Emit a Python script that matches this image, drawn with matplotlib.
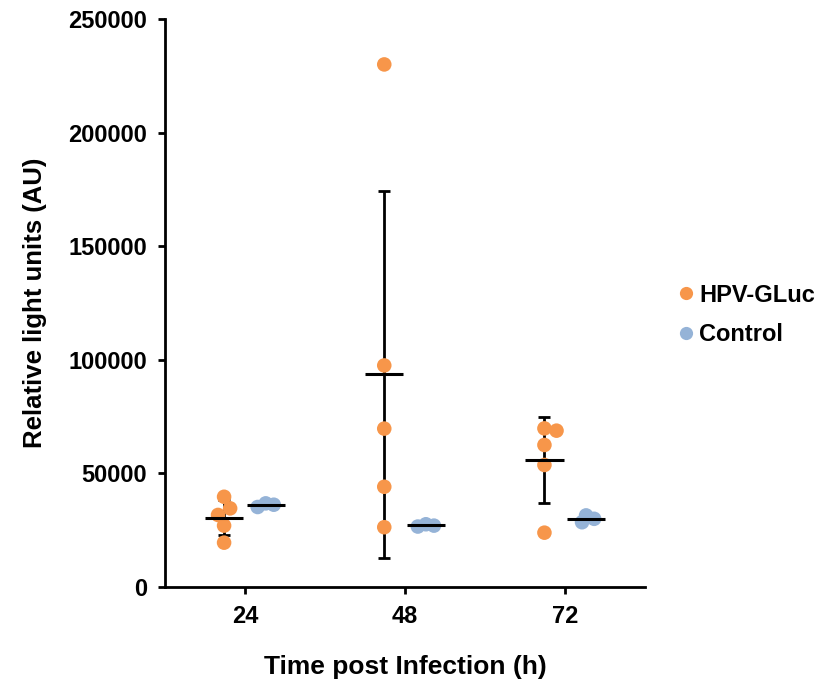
import numpy as np
import matplotlib
matplotlib.use("Agg")
import matplotlib.pyplot as plt
from matplotlib.lines import Line2D

plt.rc("font", family=["Liberation Sans", "DejaVu Sans"], weight="bold")

# values
timepoints = ["24", "48", "72"]
hpv_gluc = [
    [39700, 34600, 31700, 27000, 19500],
    [230000, 97500, 69700, 44100, 26300],
    [69800, 68800, 62500, 53700, 23900],
]
control = [
    [36800, 36200, 35200],
    [27600, 27000, 26600],
    [31500, 30000, 28500],
]
series_names = ["HPV-GLuc", "Control"]
series_colors = ["#F7964A", "#95B3D7"]
yticks = [0, 50000, 100000, 150000, 200000, 250000]

# rough pixel scales used to spread overlapping points
YPX = 568 / 250000
XPX = 159.0


def swarm(values, center, min_dist, step):
    placed = []
    xs = []
    for v in values:
        yp = v * YPX
        for k in [0, 1, -1, 2, -2, 3, -3, 4, -4]:
            xp = k * step
            if all((xp - a) ** 2 + (yp - b) ** 2 >= min_dist ** 2 for a, b in placed):
                break
        placed.append((xp, yp))
        xs.append(center + xp / XPX)
    return xs


def draw_group(ax, values, center, color, min_dist, step):
    values = np.asarray(values, dtype=float)
    mean = values.mean()
    sd = values.std(ddof=1)
    ax.errorbar(center, mean, yerr=sd, fmt="none", ecolor="black",
                elinewidth=2.0, capsize=4, capthick=2.0, zorder=2)
    ax.scatter(swarm(values, center, min_dist, step), values, s=110,
               color=color, edgecolor="none", zorder=3, clip_on=False)
    ax.plot([center - 0.12, center + 0.12], [mean, mean], color="black",
            lw=2.2, zorder=4, solid_capstyle="butt")


fig = plt.figure(figsize=(8.2, 6.83), dpi=100)
ax = fig.add_axes([0.201, 0.1406, 0.586, 0.8316])

positions = np.arange(1, len(timepoints) + 1)
offset = 0.13
for i, pos in enumerate(positions):
    draw_group(ax, hpv_gluc[i], pos - offset, series_colors[0], 12, 6)
    draw_group(ax, control[i], pos + offset, series_colors[1], 7, 4)

ax.set_xlim(0.5, 3.5)
ax.set_ylim(0, 250000)
ax.set_xticks(positions)
ax.set_xticklabels(timepoints)
ax.set_yticks(yticks)
ax.set_yticklabels([str(t) for t in yticks])

ax.spines["top"].set_visible(False)
ax.spines["right"].set_visible(False)
for s in ["left", "bottom"]:
    ax.spines[s].set_linewidth(2.0)
ax.tick_params(axis="both", direction="out", length=5, width=2.0,
               labelsize=17, pad=8)

ax.set_xlabel("Time post Infection (h)", fontsize=19, fontweight="bold")
ax.set_ylabel("Relative light units (AU)", fontsize=18.5, fontweight="bold")
ax.xaxis.set_label_coords(0.5, -0.12)
ax.yaxis.set_label_coords(-0.2456, 0.5)

handles = [Line2D([], [], marker="o", ls="none", markersize=9.5,
                  markerfacecolor=c, markeredgecolor="none") for c in series_colors]
fig.legend(handles, series_names, loc="center left",
           bbox_to_anchor=(0.808, 0.539), frameon=False, fontsize=17,
           handlelength=0.55, handletextpad=0.3, labelspacing=0.7,
           borderpad=0.2)

fig.savefig("out.png", dpi=100)
